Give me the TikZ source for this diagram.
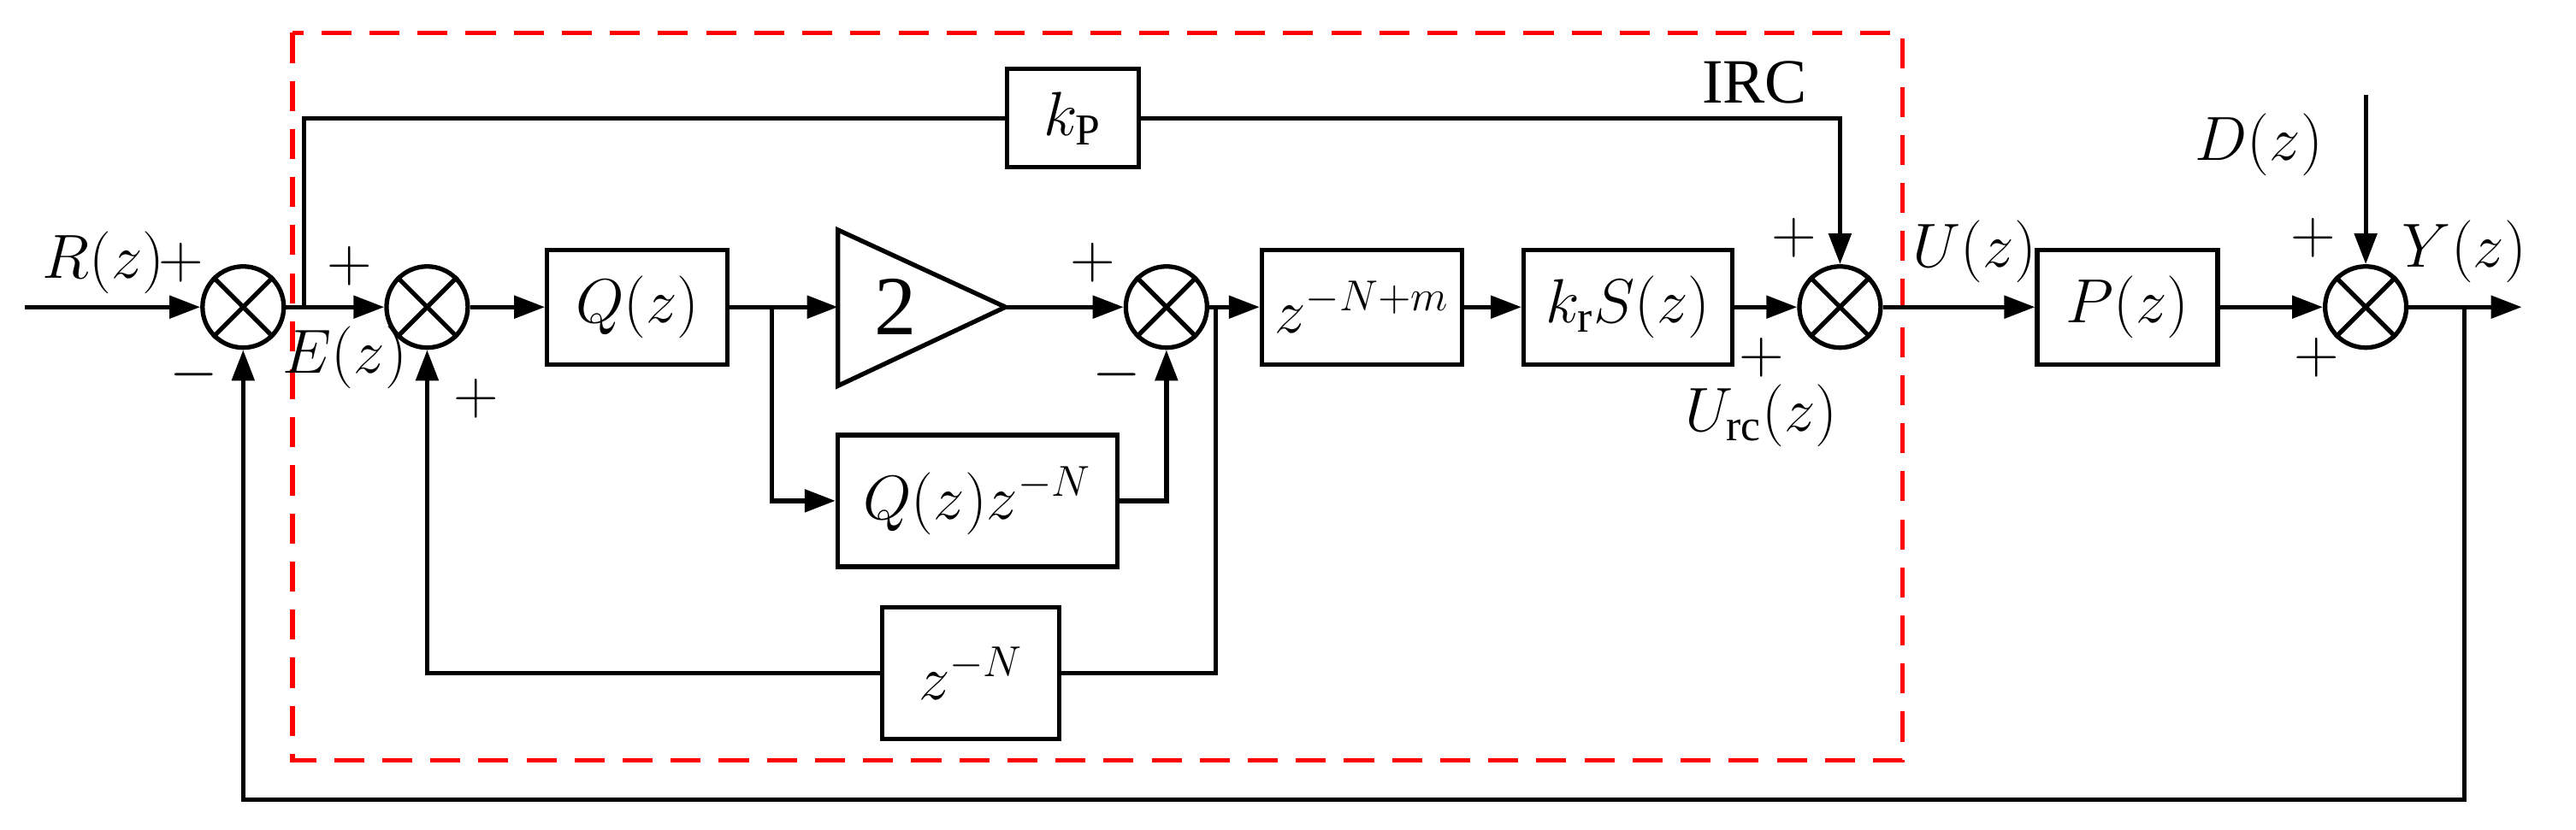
\documentclass[tikz,border=0pt]{standalone}
\usepackage{amsmath}
\usepackage{fontspec}
\setmainfont{Liberation Serif}
\usetikzlibrary{arrows.meta}

\begin{document}
\begin{tikzpicture}[x=0.01921cm,y=-0.01921cm,line width=1.5pt,
    >={Triangle[length=0.36cm,width=0.26cm]},
    font=\fontsize{21}{24}\selectfont]
  \tikzset{block/.style={draw,rectangle,inner sep=0pt},
           sum/.style={draw,circle,minimum size=0.95cm,inner sep=0pt},
           lbl/.style={inner sep=1pt}}
  \useasboundingbox (0,0) rectangle (1568,505);

  % summing junctions
  \node[sum] (s1) at (148,187) {};
  \node[sum] (s2) at (260,187) {};
  \node[sum] (s3) at (710,187) {};
  \node[sum] (s4) at (1120,187) {};
  \node[sum] (s5) at (1440,187) {};
  \foreach \s in {s1,s2,s3,s4,s5}
    \draw (\s.45) -- (\s.225) (\s.135) -- (\s.315);

  % blocks
  \node[block,minimum width=2.11cm,minimum height=1.34cm] (Q) at (388,187) {$Q(z)$};
  \coordinate (K2in) at (510,187);
  \coordinate (K2out) at (612,187);
  \draw (510,140) -- (K2out) -- (510,235) -- cycle;
  \node at (545,187) {\fontsize{28}{30}\selectfont 2};
  \node[block,minimum width=3.27cm,minimum height=1.54cm] (QN) at (595,305) {$Q(z)z^{-N}$};
  \node[block,minimum width=2.07cm,minimum height=1.54cm] (ZN) at (591,410) {$z^{-N}$};
  \node[block,minimum width=2.34cm,minimum height=1.34cm] (ZM) at (829,187) {$z^{-N+m}$};
  \node[block,minimum width=2.44cm,minimum height=1.34cm] (KS) at (991,187) {$k_{\mathrm{r}}S(z)$};
  \node[block,minimum width=1.54cm,minimum height=1.15cm] (KP) at (653,72) {$k_{\mathrm{P}}$};
  \node[block,minimum width=2.11cm,minimum height=1.34cm] (P) at (1295,187) {$P(z)$};

  % IRC frame
  \draw[red,dashed,dash pattern=on 10pt off 6pt] (178,20) rectangle (1158,463);
  \node[lbl] at (1068,50) {IRC};

  % coordinates
  \coordinate (in) at (15,187);
  \coordinate (b1) at (185,187);
  \coordinate (b2) at (470,187);
  \coordinate (b3) at (740,187);
  \coordinate (b4) at (1500,187);
  \coordinate (out) at (1535,187);
  \coordinate (d) at (1440,58);

  % connectors
  \draw[->] (in) -- (s1);
  \draw[->] (s1) -- (s2);
  \draw[->] (s2) -- (Q);
  \draw[->] (Q) -- (K2in);
  \draw[->] (K2out) -- (s3);
  \draw[->] (s3) -- (ZM);
  \draw[->] (ZM) -- (KS);
  \draw[->] (KS) -- (s4);
  \draw[->] (s4) -- (P);
  \draw[->] (P) -- (s5);
  \draw[->] (s5) -- (out);
  \draw[->] (d) -- (s5);
  \draw (b1) |- (KP);
  \draw[->] (KP) -| (s4);
  \draw[->] (b2) |- (QN);
  \draw[->] (QN.east) -| (s3);
  \draw (b3) |- (ZN);
  \draw[->] (ZN) -| (s2);
  \draw[->] (b4) |- (148,487) -- (s1);

  % labels
  \node[lbl] at (63,160) {$R(z)$};
  \node[lbl] at (110,160) {$+$};
  \node[lbl] at (118,228) {$-$};
  \node[lbl] at (210,218) {$E(z)$};
  \node[lbl] at (213,162) {$+$};
  \node[lbl] at (290,243) {$+$};
  \node[lbl] at (665,160) {$+$};
  \node[lbl] at (680,228) {$-$};
  \node[lbl] at (1092,145) {$+$};
  \node[lbl] at (1072,218) {$+$};
  \node[lbl] at (1072,253) {$U_{\mathrm{rc}}(z)$};
  \node[lbl] at (1202,153) {$U(z)$};
  \node[lbl] at (1375,88) {$D(z)$};
  \node[lbl] at (1408,145) {$+$};
  \node[lbl] at (1410,218) {$+$};
  \node[lbl] at (1500,153) {$Y(z)$};
\end{tikzpicture}
\end{document}
